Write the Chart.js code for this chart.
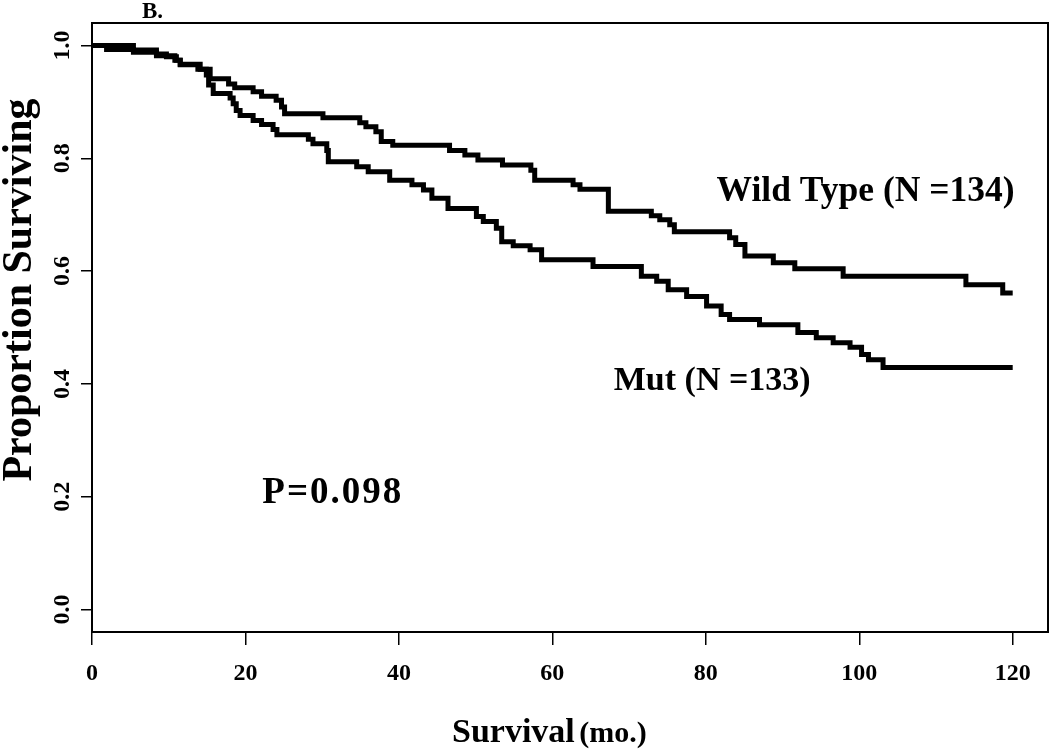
<!DOCTYPE html>
<html><head><meta charset="utf-8">
<script src="https://cdn.jsdelivr.net/npm/chart.js@4.4.1/dist/chart.umd.min.js"></script>
<style>html,body{margin:0;padding:0;background:#fff;}#wrap{width:1050px;height:749px;}</style>
</head><body><div id="wrap"><canvas id="c" width="1050" height="749"></canvas></div>
<script>
// ---- data ----
const wildTypeMonths = [0, 5.4, 8.4, 9.7, 11.0, 11.5, 14.1, 15.4, 17.8, 18.6, 21.0, 22.1, 24.0, 24.7, 25.1, 30.1, 34.9, 35.7, 37.0, 37.7, 39.2, 46.6, 48.6, 50.3, 53.5, 57.2, 57.7, 62.7, 63.6, 67.3, 72.9, 74.0, 75.3, 75.9, 83.1, 83.9, 85.1, 88.8, 91.6, 97.9, 113.9, 118.7, 120];
const wildTypeSurvival = [1.0, 0.992, 0.985, 0.980, 0.974, 0.967, 0.958, 0.941, 0.932, 0.925, 0.918, 0.910, 0.903, 0.891, 0.879, 0.872, 0.863, 0.856, 0.847, 0.830, 0.823, 0.814, 0.806, 0.797, 0.788, 0.779, 0.761, 0.753, 0.745, 0.706, 0.698, 0.691, 0.682, 0.670, 0.659, 0.647, 0.627, 0.615, 0.604, 0.591, 0.576, 0.561, 0.561];
const mutMonths = [0, 1.9, 5.4, 8.4, 10.8, 11.5, 13.8, 14.9, 15.2, 15.8, 18.0, 18.4, 18.8, 19.3, 21.0, 22.1, 23.6, 24.1, 28.2, 28.8, 30.6, 30.8, 34.5, 36.0, 38.8, 41.7, 43.2, 44.3, 46.4, 50.1, 51.0, 52.7, 53.4, 54.9, 57.1, 58.6, 65.3, 71.6, 73.6, 75.1, 77.5, 80.1, 82.0, 83.1, 87.0, 92.0, 94.4, 96.6, 98.8, 100.3, 101.2, 103.1, 120];
const mutSurvival = [1.0, 0.993, 0.988, 0.982, 0.974, 0.966, 0.958, 0.948, 0.930, 0.915, 0.907, 0.897, 0.885, 0.876, 0.867, 0.860, 0.851, 0.842, 0.834, 0.826, 0.814, 0.794, 0.785, 0.776, 0.761, 0.753, 0.744, 0.729, 0.711, 0.697, 0.688, 0.676, 0.652, 0.645, 0.638, 0.620, 0.608, 0.591, 0.582, 0.567, 0.555, 0.538, 0.523, 0.514, 0.505, 0.491, 0.482, 0.473, 0.465, 0.452, 0.443, 0.429, 0.429];
const xTickValues = [0, 20, 40, 60, 80, 100, 120];
const yTickValues = [0, 0.2, 0.4, 0.6, 0.8, 1.0];
const seriesLabels = ['Wild Type (N =134)', 'Mut (N =133)'];
const pValueText = 'P=0.098';
const panelLabel = 'B.';
const xTitleMain = 'Survival';
const xTitleUnit = '(mo.)';
const yTitleText = 'Proportion Surviving';

// ---- rendering ----
const FONT = '"Liberation Serif", "Times New Roman", serif';
const toPoints = (xs, ys) => xs.map((t, i) => ({x: t, y: ys[i]}));

const decor = {
  id: 'decor',
  afterDraw(chart) {
    const {ctx, chartArea: a, scales: {x, y}} = chart;
    ctx.save();
    ctx.strokeStyle = '#000';
    ctx.lineWidth = 2;
    ctx.strokeRect(a.left, a.top, a.right - a.left, a.bottom - a.top);
    ctx.fillStyle = '#000';
    ctx.textBaseline = 'middle';
    ctx.textAlign = 'left';
    ctx.font = 'bold 35.5px ' + FONT;
    ctx.fillText(seriesLabels[0], x.getPixelForValue(81.4), y.getPixelForValue(0.74));
    ctx.font = 'bold 34px ' + FONT;
    ctx.fillText(seriesLabels[1], x.getPixelForValue(68.0), y.getPixelForValue(0.405));
    ctx.font = 'bold 37px ' + FONT;
    ctx.letterSpacing = '2px';
    ctx.fillText(pValueText, x.getPixelForValue(22.2), y.getPixelForValue(0.205));
    ctx.letterSpacing = '0px';
    // panel label
    ctx.textBaseline = 'alphabetic';
    ctx.font = 'bold 23px ' + FONT;
    ctx.fillText(panelLabel, 142, 18);
    // x title (two sizes)
    ctx.font = 'bold 34px ' + FONT;
    const w1 = ctx.measureText(xTitleMain + ' ').width;
    ctx.fillText(xTitleMain, 452, 742);
    ctx.font = 'bold 30px ' + FONT;
    ctx.fillText(xTitleUnit, 452 + w1 - 4, 742);
    // y title
    ctx.translate(20, 290);
    ctx.rotate(-Math.PI / 2);
    ctx.textAlign = 'center';
    ctx.textBaseline = 'middle';
    ctx.font = 'bold 42px ' + FONT;
    ctx.fillText(yTitleText, 0, 0);
    ctx.restore();
  }
};

new Chart(document.getElementById('c'), {
  type: 'line',
  data: {
    datasets: [
      {label: seriesLabels[0], data: toPoints(wildTypeMonths, wildTypeSurvival), stepped: 'before',
       borderColor: '#000', borderWidth: 5, pointRadius: 0, fill: false, borderCapStyle: 'butt', borderJoinStyle: 'miter'},
      {label: seriesLabels[1], data: toPoints(mutMonths, mutSurvival), stepped: 'before',
       borderColor: '#000', borderWidth: 5, pointRadius: 0, fill: false, borderCapStyle: 'butt', borderJoinStyle: 'miter'}
    ]
  },
  options: {
    responsive: false,
    animation: false,
    devicePixelRatio: 1,
    layout: {padding: {top: 23, right: 2, left: 0, bottom: 0}},
    plugins: {legend: {display: false}, tooltip: {enabled: false}},
    scales: {
      x: {
        type: 'linear', position: 'bottom', min: 0, max: 124.6,
        border: {display: false},
        grid: {display: true, drawOnChartArea: false, drawTicks: true, tickLength: 13, color: '#000', lineWidth: 1.5},
        ticks: {color: '#000', font: {family: FONT, size: 24, weight: 'bold'}, padding: 14, autoSkip: false, maxRotation: 0},
        afterBuildTicks: s => { s.ticks = xTickValues.map(v => ({value: v})); },
        afterFit: s => { s.height = 117; }
      },
      y: {
        type: 'linear', position: 'left', min: -0.04, max: 1.04,
        border: {display: false},
        grid: {display: true, drawOnChartArea: false, drawTicks: true, tickLength: 11, color: '#000', lineWidth: 1.5},
        ticks: {color: '#000', font: {family: FONT, size: 24, weight: 'bold'}, padding: 3, autoSkip: false,
                minRotation: 90, maxRotation: 90, crossAlign: 'center', callback: v => v.toFixed(1)},
        afterBuildTicks: s => { s.ticks = yTickValues.map(v => ({value: v})); },
        afterFit: s => { s.width = 92; }
      }
    }
  },
  plugins: [decor]
});
</script></body></html>
